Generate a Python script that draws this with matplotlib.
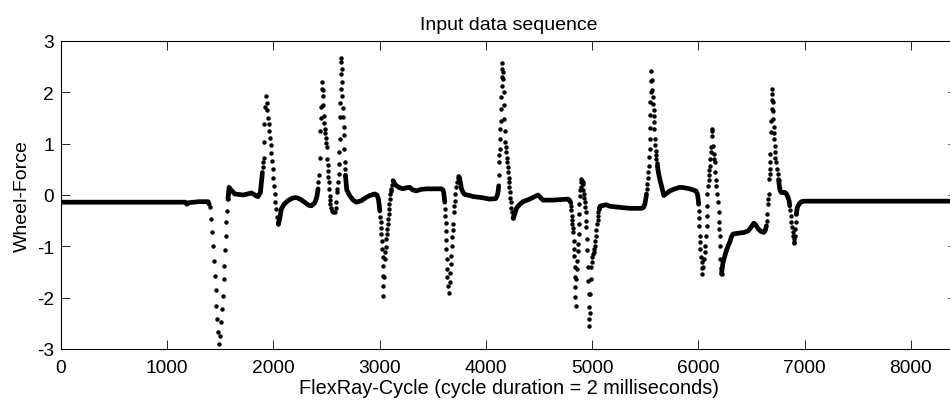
import numpy as np
import matplotlib
matplotlib.use("Agg")
import matplotlib.pyplot as plt

# Wheel-force signal over FlexRay cycles.
# Slowly varying stretches of the recording (samples overlap into a solid trace).
trace_cycle = [
    [0, 600, 1170, 1185, 1200, 1300, 1385, 1395],
    [1572, 1582, 1600, 1636, 1717, 1793, 1840, 1855, 1877, 1887, 1896],
    [2047, 2060, 2075, 2100, 2137, 2180, 2216, 2250, 2294, 2330, 2358, 2385, 2398, 2410, 2420],
    [2678, 2690, 2720, 2750, 2781, 2828, 2870, 2907, 2954, 2975, 2988, 2996, 3001],
    [3126, 3140, 3158, 3190, 3220, 3250, 3283, 3310, 3346, 3390, 3440, 3500, 3581, 3595, 3603, 3608, 3613],
    [3744, 3755, 3770, 3785, 3801, 3848, 3879, 3958, 4036, 4093, 4105, 4114, 4121],
    [4256, 4262, 4288, 4319, 4350, 4413, 4450, 4491, 4538, 4580, 4632, 4700, 4774, 4790, 4799],
    [5066, 5075, 5088, 5135, 5166, 5260, 5355, 5465, 5485, 5496, 5505, 5512],
    [5615, 5622, 5630, 5640, 5653, 5664, 5675, 5700, 5731, 5780, 5825, 5870, 5919, 5976, 5990, 5997, 6003],
    [6218, 6225, 6233, 6250, 6265, 6280, 6296, 6310, 6327, 6360, 6390, 6430, 6469, 6495, 6522, 6540, 6563, 6590, 6616, 6630, 6641],
    [6755, 6768, 6780, 6800, 6814, 6830, 6845, 6855, 6861],
    [6922, 6930, 6939, 6955, 6971, 7000, 7049, 7100, 7500, 8000, 8440],
]
trace_force = [
    [-0.14, -0.14, -0.14, -0.18, -0.15, -0.13, -0.13, -0.18],
    [-0.08, 0.15, 0.10, 0.02, 0.00, 0.04, -0.02, -0.03, 0.05, 0.25, 0.44],
    [-0.56, -0.45, -0.27, -0.18, -0.11, -0.06, -0.05, -0.08, -0.14, -0.20, -0.21, -0.16, -0.11, -0.02, 0.12],
    [0.38, 0.10, -0.02, -0.10, -0.14, -0.11, -0.05, -0.01, 0.02, 0.00, -0.08, -0.20, -0.31],
    [0.28, 0.22, 0.18, 0.14, 0.12, 0.14, 0.15, 0.10, 0.08, 0.11, 0.12, 0.12, 0.12, 0.10, 0.05, -0.05, -0.14],
    [0.36, 0.30, 0.12, 0.05, 0.01, -0.01, -0.03, -0.05, -0.08, -0.07, -0.02, 0.05, 0.18],
    [-0.45, -0.43, -0.26, -0.18, -0.13, -0.08, -0.04, 0.00, -0.10, -0.10, -0.10, -0.09, -0.08, -0.11, -0.15],
    [-0.27, -0.22, -0.21, -0.19, -0.22, -0.24, -0.26, -0.26, -0.24, -0.18, -0.08, 0.02],
    [0.57, 0.46, 0.38, 0.28, 0.18, 0.08, -0.01, 0.03, 0.08, 0.12, 0.15, 0.14, 0.12, 0.08, 0.03, -0.05, -0.18],
    [-1.54, -1.42, -1.31, -1.18, -1.08, -0.99, -0.92, -0.82, -0.76, -0.75, -0.74, -0.73, -0.70, -0.63, -0.55, -0.58, -0.66, -0.71, -0.73, -0.69, -0.60],
    [0.30, 0.10, 0.05, 0.05, 0.05, 0.02, -0.05, -0.12, -0.21],
    [-0.37, -0.26, -0.21, -0.16, -0.13, -0.12, -0.12, -0.12, -0.12, -0.12, -0.12],
]

# Individually visible samples during the fast transients.
sample_cycle = [
    1407, 1416, 1422, 1432, 1438, 1447, 1456, 1463, 1472, 1482, 1488,
    1500, 1510, 1516, 1525, 1532, 1539, 1544, 1551, 1557, 1563, 1572,
    1902, 1905, 1908, 1911, 1914, 1924, 1932,
    1938, 1944, 1950, 1956, 1962, 1968, 1974, 1980, 1986, 1992, 1998, 2004, 2010, 2017, 2024, 2032, 2040, 2047,
    2424, 2429, 2436, 2442, 2448, 2452, 2457, 2459,
    2463, 2467, 2470, 2473, 2478, 2483, 2488, 2492, 2498, 2504, 2508, 2511, 2514, 2518, 2521, 2525, 2530, 2533, 2536, 2545, 2555, 2565, 2577,
    2585, 2593, 2599, 2602, 2608, 2614, 2617, 2620, 2624, 2627, 2630, 2632, 2636, 2638, 2640,
    2643, 2646, 2649, 2653, 2656, 2660, 2663, 2667, 2671, 2675, 2678,
    3004, 3008, 3012, 3016, 3020, 3023, 3027, 3031, 3033, 3034, 3036,
    3042, 3048, 3053, 3057, 3062, 3066, 3069, 3074, 3079, 3084, 3088, 3092, 3095, 3100, 3106, 3111, 3118, 3126,
    3616, 3618, 3620, 3622, 3625, 3628, 3631, 3634, 3638, 3644, 3653,
    3660, 3666, 3671, 3676, 3680, 3685, 3690, 3693, 3697, 3701, 3707, 3711, 3716, 3725, 3735, 3744,
    4122, 4124, 4127, 4131, 4134, 4137, 4140, 4141, 4144, 4147, 4150, 4152, 4156,
    4160, 4162, 4166, 4170, 4175, 4179, 4184, 4188, 4193, 4196, 4199, 4204, 4209, 4213, 4218, 4222, 4225, 4230, 4234, 4240, 4246, 4252, 4256,
    4802, 4805, 4808, 4812, 4815, 4820, 4824, 4827, 4830, 4832, 4836, 4838, 4842, 4843, 4846,
    4852, 4857, 4862, 4866, 4868, 4872, 4874, 4877, 4880, 4884, 4890, 4893, 4897, 4900,
    4905, 4910, 4915, 4918, 4922, 4926, 4931, 4935, 4940, 4943, 4946, 4950, 4952, 4957, 4962, 4966, 4968, 4972, 4974,
    4978, 4982, 4987, 4994, 5000, 5003, 5010, 5016, 5020, 5025, 5030, 5035, 5040, 5047, 5052, 5056, 5060, 5066,
    5517, 5521, 5525, 5530, 5537, 5540, 5543, 5544, 5545, 5546, 5549, 5553, 5557, 5559,
    5563, 5568, 5571, 5574, 5578, 5581, 5584, 5587, 5590, 5594, 5597, 5602, 5606, 5610, 5615,
    6007, 6009, 6010, 6013, 6017, 6020, 6025, 6030, 6032, 6035,
    6045, 6054, 6060, 6067, 6072, 6077, 6080, 6083, 6086, 6092, 6097, 6101, 6105, 6108, 6112, 6117, 6120, 6124, 6129,
    6132, 6138, 6145, 6150, 6154, 6160, 6165, 6170, 6178, 6186, 6190, 6195, 6198, 6202, 6205, 6208, 6213, 6218,
    6646, 6651, 6655, 6659, 6663, 6666, 6670, 6673, 6676, 6679, 6682, 6685, 6689, 6692, 6694, 6696,
    6700, 6704, 6707, 6710, 6713, 6716, 6718, 6720, 6725, 6730, 6740, 6748, 6755,
    6866, 6870, 6875, 6880, 6887, 6892, 6896, 6900, 6904,
    6908, 6912, 6917, 6922,
]
sample_force = [
    -0.24, -0.47, -0.73, -0.99, -1.28, -1.57, -1.86, -2.16, -2.42, -2.67, -2.90,
    -2.74, -2.48, -2.22, -1.96, -1.64, -1.38, -1.08, -0.79, -0.53, -0.31, -0.08,
    0.55, 0.64, 0.73, 1.03, 1.38, 1.72, 1.93,
    1.80, 1.65, 1.50, 1.38, 1.25, 1.12, 0.98, 0.82, 0.66, 0.50, 0.34, 0.18, 0.02, -0.14, -0.28, -0.42, -0.53, -0.56,
    0.25, 0.38, 0.73, 1.25, 1.50, 1.71, 2.07, 2.21,
    2.05, 1.93, 1.75, 1.54, 1.40, 1.29, 1.20, 1.12, 1.02, 0.93, 0.70, 0.58, 0.47, 0.36, 0.25, 0.12, -0.01, -0.10, -0.18, -0.26, -0.31, -0.33, -0.34,
    -0.25, -0.14, 0.05, 0.12, 0.26, 0.41, 0.60, 0.83, 1.10, 1.51, 1.80, 2.07, 2.35, 2.59, 2.66,
    2.45, 2.20, 1.93, 1.70, 1.51, 1.33, 1.16, 0.90, 0.64, 0.50, 0.38,
    -0.42, -0.53, -0.65, -0.76, -0.90, -1.05, -1.20, -1.38, -1.57, -1.77, -1.96,
    -1.60, -1.25, -1.12, -1.02, -0.86, -0.76, -0.66, -0.56, -0.47, -0.37, -0.27, -0.17, -0.08, 0.02, 0.08, 0.12, 0.20, 0.28,
    -0.27, -0.40, -0.55, -0.70, -0.88, -1.05, -1.25, -1.44, -1.60, -1.77, -1.90,
    -1.70, -1.51, -1.35, -1.18, -1.00, -0.82, -0.68, -0.56, -0.34, -0.22, -0.11, 0.02, 0.15, 0.25, 0.33, 0.36,
    0.38, 0.64, 0.78, 0.90, 1.10, 1.29, 1.45, 1.68, 1.90, 2.13, 2.30, 2.45, 2.57,
    2.40, 2.26, 2.00, 1.75, 1.48, 1.25, 1.03, 0.93, 0.83, 0.73, 0.64, 0.54, 0.44, 0.34, 0.25, 0.15, 0.05, -0.05, -0.14, -0.25, -0.34, -0.41, -0.45,
    -0.21, -0.30, -0.40, -0.48, -0.56, -0.65, -0.73, -0.89, -1.05, -1.18, -1.40, -1.60, -1.80, -1.99, -2.16,
    -1.64, -1.45, -1.28, -1.10, -0.95, -0.76, -0.56, -0.37, -0.18, -0.01, 0.10, 0.15, 0.25, 0.31,
    0.28, 0.25, 0.21, 0.10, 0.02, -0.06, -0.14, -0.24, -0.34, -0.50, -0.63, -0.85, -1.08, -1.40, -1.67, -1.93, -2.19, -2.42, -2.55,
    -2.30, -1.93, -1.64, -1.41, -1.30, -1.21, -1.15, -1.12, -1.05, -0.99, -0.90, -0.79, -0.68, -0.56, -0.48, -0.40, -0.33, -0.27,
    0.12, 0.21, 0.34, 0.45, 0.57, 0.75, 0.90, 1.10, 1.31, 1.55, 1.81, 2.00, 2.23, 2.42,
    2.25, 2.05, 1.90, 1.77, 1.65, 1.54, 1.42, 1.29, 1.09, 0.98, 0.86, 0.78, 0.70, 0.63, 0.57,
    -0.31, -0.45, -0.60, -0.79, -0.92, -1.05, -1.20, -1.31, -1.42, -1.54,
    -1.40, -1.25, -1.12, -0.99, -0.80, -0.60, -0.40, -0.21, 0.02, 0.18, 0.30, 0.38, 0.48, 0.57, 0.70, 0.83, 0.93, 1.25, 1.29,
    1.15, 0.96, 0.80, 0.70, 0.64, 0.45, 0.30, 0.18, 0.02, -0.14, -0.33, -0.53, -0.66, -0.79, -1.00, -1.25, -1.42, -1.54,
    -0.50, -0.37, -0.18, -0.08, 0.02, 0.31, 0.40, 0.51, 0.65, 0.80, 1.22, 1.45, 1.68, 1.85, 1.97, 2.07,
    1.82, 1.64, 1.48, 1.32, 1.20, 1.09, 0.95, 0.83, 0.73, 0.64, 0.50, 0.41, 0.30,
    -0.30, -0.40, -0.52, -0.63, -0.72, -0.79, -0.86, -0.92, -0.94,
    -0.80, -0.66, -0.52, -0.37,
]

x_ticks = [0, 1000, 2000, 3000, 4000, 5000, 6000, 7000, 8000]
y_ticks = [-3, -2, -1, 0, 1, 2, 3]

plt.rcParams["font.family"] = ["Liberation Sans", "DejaVu Sans"]
plt.rcParams["axes.unicode_minus"] = False

fig = plt.figure(figsize=(9.5, 4.06), dpi=100)
ax = fig.add_axes([61 / 950, 56 / 406, 896 / 950, 308 / 406])

for cyc, frc in zip(trace_cycle, trace_force):
    ax.plot(cyc, frc, color="black", lw=3.4,
            solid_capstyle="round", solid_joinstyle="round")
ax.plot(sample_cycle, sample_force, linestyle="none", marker="o",
        color="black", markersize=3.2, markeredgewidth=0)

ax.set_xlim(0, 8435)
ax.set_ylim(-3, 3)
ax.set_xticks(x_ticks)
ax.set_yticks(y_ticks)
ax.tick_params(direction="in", length=6.5, width=0.6, top=True, right=True,
               labelsize=13.8, colors="black")
ax.tick_params(axis="x", pad=7)
ax.tick_params(axis="y", pad=5)
for sp in ax.spines.values():
    sp.set_linewidth(0.8)

ax.set_title("Input data sequence", fontsize=14, pad=9)
ax.set_xlabel("FlexRay-Cycle (cycle duration = 2 milliseconds)", fontsize=14.3, labelpad=2)
ax.set_ylabel("Wheel-Force", fontsize=14, labelpad=4)

fig.savefig("out.png", dpi=100)
